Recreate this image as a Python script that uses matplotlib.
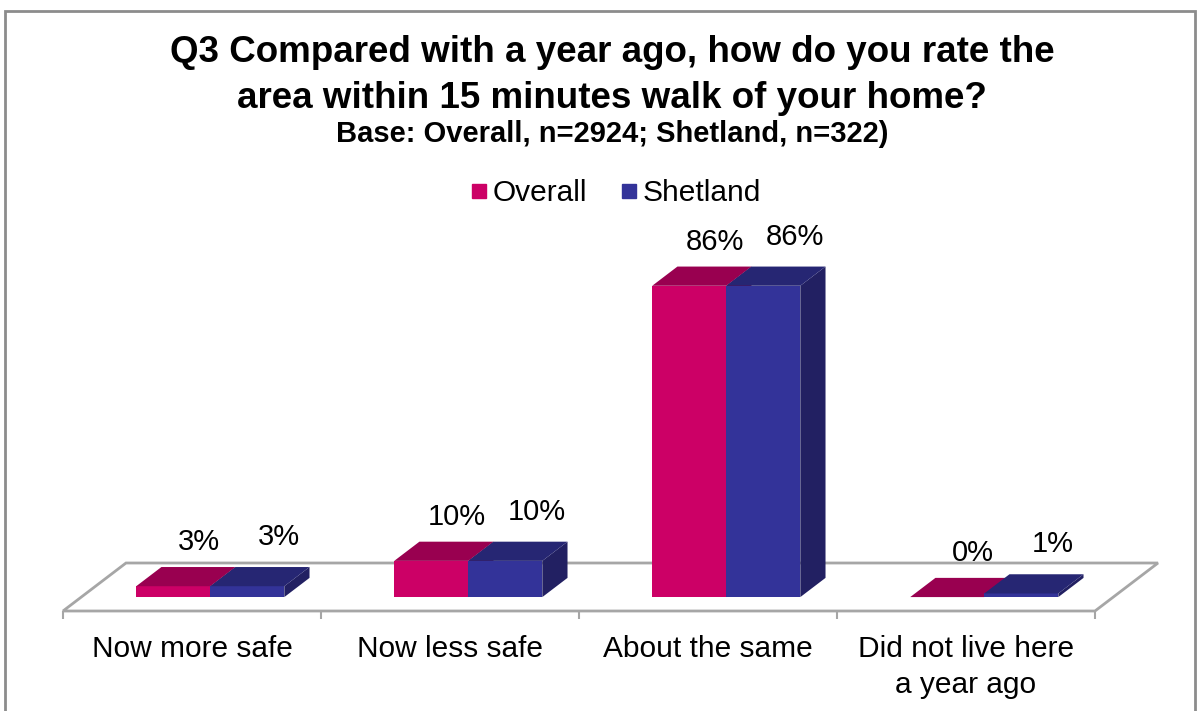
import matplotlib
matplotlib.use("Agg")
import matplotlib.pyplot as plt
from matplotlib.patches import Polygon, Rectangle
from matplotlib.lines import Line2D

# ---- data -------------------------------------------------------------
categories = ["Now more safe", "Now less safe", "About the same",
              "Did not live here\na year ago"]
series_names = ["Overall", "Shetland"]
overall = [3, 10, 86, 0]
shetland = [3, 10, 86, 1]

title_lines = ["Q3 Compared with a year ago, how do you rate the",
               "area within 15 minutes walk of your home?"]
subtitle = "Base: Overall, n=2924; Shetland, n=322)"

# ---- styling ----------------------------------------------------------
plt.rcParams["font.family"] = ["Liberation Sans", "DejaVu Sans"]

FRONT = ["#CC0066", "#333399"]
TOP = ["#990050", "#262673"]
SIDE = ["#7A0040", "#222062"]
GRID_GREY = "#A6A6A6"

W, H = 1200, 711
fig = plt.figure(figsize=(W / 100, H / 100), dpi=100)

# plot area geometry (pixels)
PX_LEFT, PX_RIGHT = 63, 1095
PX_FLOOR, PX_TOP = 611, 200
PX_PER_PCT = 3.62

ax = fig.add_axes([PX_LEFT / W, (H - PX_FLOOR) / H,
                   (PX_RIGHT - PX_LEFT) / W, (PX_FLOOR - PX_TOP) / H])
ax.set_xlim(-0.5, len(categories) - 0.5)
ax.set_ylim(0, (PX_FLOOR - PX_TOP) / PX_PER_PCT)

# oblique projection of the floor depth
DEPTH_X = 63 / 258.0          # in category units
DEPTH_Y = 48 / PX_PER_PCT     # in percent units
Z0, Z1 = 0.29, 0.69           # front / back of the bars inside the floor
BAR_W = 0.287

# floor
n = len(categories)
floor = Polygon([(-0.5, 0), (n - 0.5, 0),
                 (n - 0.5 + DEPTH_X, DEPTH_Y), (-0.5 + DEPTH_X, DEPTH_Y)],
                closed=True, facecolor="white", edgecolor=GRID_GREY,
                lw=2, zorder=1, clip_on=False)
ax.add_patch(floor)

dzx = (Z1 - Z0) * DEPTH_X
dzy = (Z1 - Z0) * DEPTH_Y
base_x = Z0 * DEPTH_X
base_y = Z0 * DEPTH_Y

series = [overall, shetland]
z = 2
for i in range(n):
    for s, values in enumerate(series):
        h = values[i]
        fx = i - BAR_W + s * BAR_W + base_x
        fy = base_y
        # side face
        ax.add_patch(Polygon([(fx + BAR_W, fy), (fx + BAR_W, fy + h),
                              (fx + BAR_W + dzx, fy + h + dzy),
                              (fx + BAR_W + dzx, fy + dzy)],
                             closed=True, facecolor=SIDE[s], lw=0,
                             zorder=z, clip_on=False))
        # front face
        ax.bar(fx, h, width=BAR_W, bottom=fy, align="edge",
               color=FRONT[s], lw=0, zorder=z + 1, clip_on=False)
        # top face
        ax.add_patch(Polygon([(fx, fy + h), (fx + BAR_W, fy + h),
                              (fx + BAR_W + dzx, fy + h + dzy),
                              (fx + dzx, fy + h + dzy)],
                             closed=True, facecolor=TOP[s], lw=0,
                             zorder=z + 2, clip_on=False))
        # value label above the back edge of the top face
        off = (0, 25) if s == 0 else (6, 30)
        ax.annotate(f"{h}%", (fx + BAR_W / 2 + dzx, fy + h + dzy),
                    xytext=off, textcoords="offset pixels",
                    ha="center", va="center", fontsize=21, color="black",
                    zorder=20)
        z += 3

# category axis
ax.set_xticks(range(n))
ax.set_xticklabels(categories, fontsize=21.5)
for lab in ax.get_xticklabels():
    lab.set_linespacing(1.4)
ax.set_xticks([k - 0.5 for k in range(n + 1)], minor=True)
ax.tick_params(axis="x", which="major", length=0, pad=17)
ax.tick_params(axis="x", which="minor", length=6, width=1.5,
               color=GRID_GREY, direction="out")
ax.set_yticks([])
for sp in ax.spines.values():
    sp.set_visible(False)
ax.patch.set_visible(False)

# titles
fig.text(612 / W, 1 - 53 / H, title_lines[0], ha="center", va="center",
         fontsize=26.5, fontweight="bold")
fig.text(612 / W, 1 - 98 / H, title_lines[1], ha="center", va="center",
         fontsize=26.5, fontweight="bold")
fig.text(612 / W, 1 - 134 / H, subtitle, ha="center", va="center",
         fontsize=21, fontweight="bold")

# legend
handles = [Line2D([], [], marker="s", ls="none", color=FRONT[k],
                  markersize=10) for k in range(2)]
fig.legend(handles, series_names, loc="center",
           bbox_to_anchor=(614 / W, 1 - 193 / H), ncol=2, frameon=False,
           fontsize=21.5, handletextpad=0.05, columnspacing=1.0,
           handlelength=0.8)

# chart border
fig.add_artist(Rectangle((5 / W, -0.05), 1190 / W, (H - 11) / H + 0.05,
                         transform=fig.transFigure, fill=False,
                         edgecolor="#8C8C8C", lw=2))

fig.savefig("out.png", dpi=100)
